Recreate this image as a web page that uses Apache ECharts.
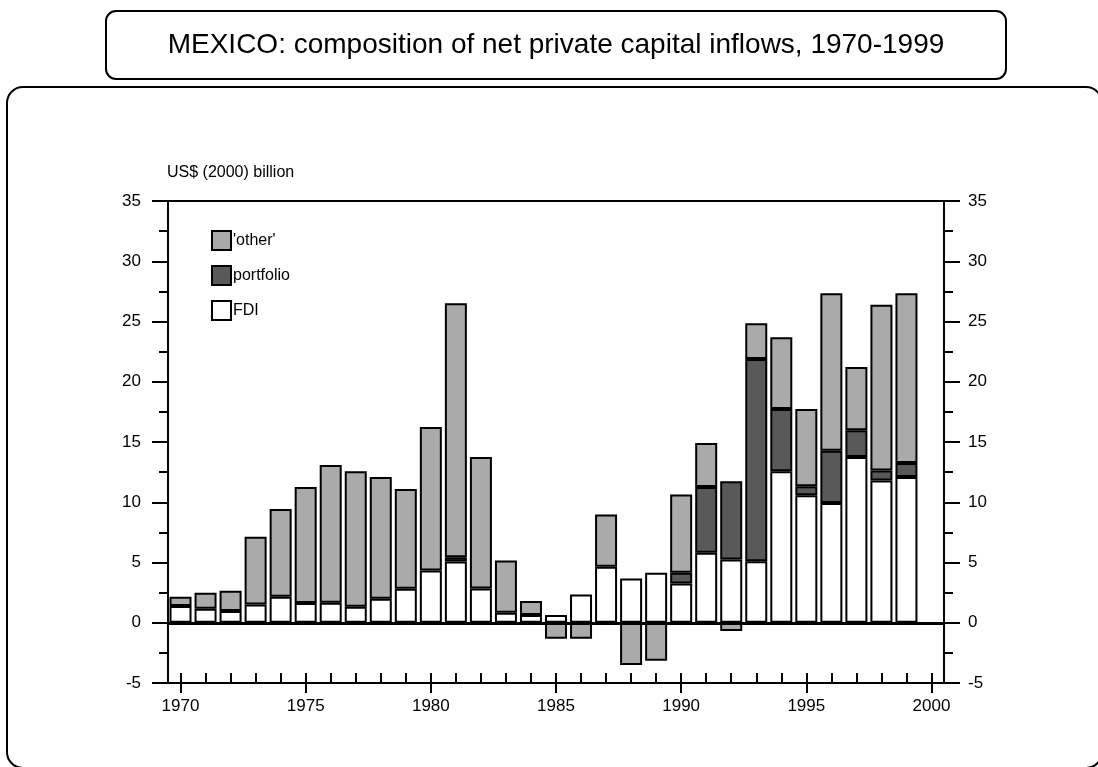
<!DOCTYPE html>
<html>
<head>
<meta charset="utf-8">
<script src="https://cdn.jsdelivr.net/npm/echarts@6/dist/echarts.min.js"></script>
<style>
html,body{margin:0;padding:0;background:#fff;}
#chart{width:1098px;height:767px;}
</style>
</head>
<body>
<div id="chart"></div>
<script>
const years = ['1970','1971','1972','1973','1974','1975','1976','1977','1978','1979','1980','1981','1982','1983','1984','1985','1986','1987','1988','1989','1990','1991','1992','1993','1994','1995','1996','1997','1998','1999','2000'];
const fdi = [1.38,1.16,0.97,1.52,2.15,1.63,1.66,1.33,1.99,2.82,4.34,5.08,2.85,0.83,0.64,0.64,2.35,4.64,3.67,4.14,3.26,5.80,5.25,5.11,12.57,10.58,9.94,13.76,11.80,12.10];
const portfolio = [null,null,null,null,null,null,null,null,null,null,null,0.36,null,null,null,null,null,null,null,null,0.88,5.47,6.49,16.77,5.16,0.75,4.34,2.21,0.83,1.16];
const other = [0.77,1.33,1.68,5.61,7.30,9.64,11.43,11.24,10.11,8.28,11.90,21.08,10.91,4.34,1.16,-1.33,-1.33,4.34,-3.50,-3.15,6.50,3.65,-0.69,2.98,5.97,6.40,13.07,5.25,13.76,14.09];
const titleText = 'MEXICO: composition of net private capital inflows, 1970-1999';
const unitText = 'US$ (2000) billion';

const FONT = 'Liberation Sans, Arial, sans-serif';
const chart = echarts.init(document.getElementById('chart'), null, {renderer: 'canvas'});
const barStyle = (c) => ({color: c, borderColor: '#000', borderWidth: 2});
const yCommon = {
  type: 'value', min: -5, max: 35, interval: 5,
  axisLine: {show: true, lineStyle: {color: '#000', width: 2}},
  axisTick: {show: true, length: 16, lineStyle: {color: '#000', width: 2}},
  minorTick: {show: true, splitNumber: 2, length: 9, lineStyle: {color: '#000', width: 2}},
  splitLine: {show: false},
  axisLabel: {color: '#000', fontSize: 17, fontFamily: FONT}
};
chart.setOption({
  animation: false,
  backgroundColor: '#fff',
  graphic: [
    {type: 'rect', shape: {x: 106, y: 11, width: 900, height: 68, r: 10}, style: {fill: 'none', stroke: '#000', lineWidth: 2}},
    {type: 'rect', shape: {x: 7, y: 87, width: 1095, height: 681, r: 16}, style: {fill: 'none', stroke: '#000', lineWidth: 2}},
    {type: 'text', x: 556, y: 45, style: {text: titleText, fill: '#000', font: '28px ' + FONT, textAlign: 'center', textVerticalAlign: 'middle'}},
    {type: 'text', x: 167, y: 173, style: {text: unitText, fill: '#000', font: '16px ' + FONT, textAlign: 'left', textVerticalAlign: 'middle'}}
  ],
  grid: {left: 168, right: 154, top: 201, bottom: 84, show: true, borderColor: '#000', borderWidth: 2, backgroundColor: 'transparent'},
  legend: {
    orient: 'vertical', left: 206, top: 225, itemWidth: 19, itemHeight: 19, itemGap: 14,
    data: ["'other'", 'portfolio', 'FDI'],
    icon: 'rect',
    itemStyle: {borderColor: '#000', borderWidth: 2},
    textStyle: {color: '#000', fontSize: 16, fontFamily: FONT, padding: [0, 0, 0, -3]}
  },
  xAxis: [
    {
      type: 'category', data: years, position: 'bottom',
      axisLine: {show: true, onZero: false, lineStyle: {color: '#000', width: 2}},
      axisTick: {show: true, inside: true, alignWithLabel: true, interval: 0, length: 10, lineStyle: {color: '#000', width: 2}},
      axisLabel: {interval: (i) => i % 5 === 0, color: '#000', fontSize: 17, fontFamily: FONT, margin: 15},
      splitLine: {show: false}
    },
    {
      type: 'category', data: years, position: 'bottom',
      axisLine: {show: false, onZero: false},
      axisTick: {show: true, inside: false, alignWithLabel: true, interval: (i) => i % 5 === 0, length: 10, lineStyle: {color: '#000', width: 2}},
      axisLabel: {show: false},
      splitLine: {show: false}
    }
  ],
  yAxis: [
    Object.assign({}, yCommon, {position: 'left', axisLabel: Object.assign({}, yCommon.axisLabel, {margin: 27})}),
    Object.assign({}, yCommon, {position: 'right', axisLabel: Object.assign({}, yCommon.axisLabel, {margin: 24})})
  ],
  series: [
    {name: 'FDI', type: 'bar', stack: 'a', data: fdi, barWidth: 22, itemStyle: barStyle('#ffffff'),
     markLine: {silent: true, symbol: 'none', label: {show: false}, lineStyle: {color: '#000', width: 3, type: 'solid'}, data: [{yAxis: 0}]}},
    {name: 'portfolio', type: 'bar', stack: 'a', data: portfolio, barWidth: 22, itemStyle: barStyle('#595959')},
    {name: "'other'", type: 'bar', stack: 'a', data: other, barWidth: 22, itemStyle: barStyle('#aaaaaa')}
  ]
});
</script>
</body>
</html>
